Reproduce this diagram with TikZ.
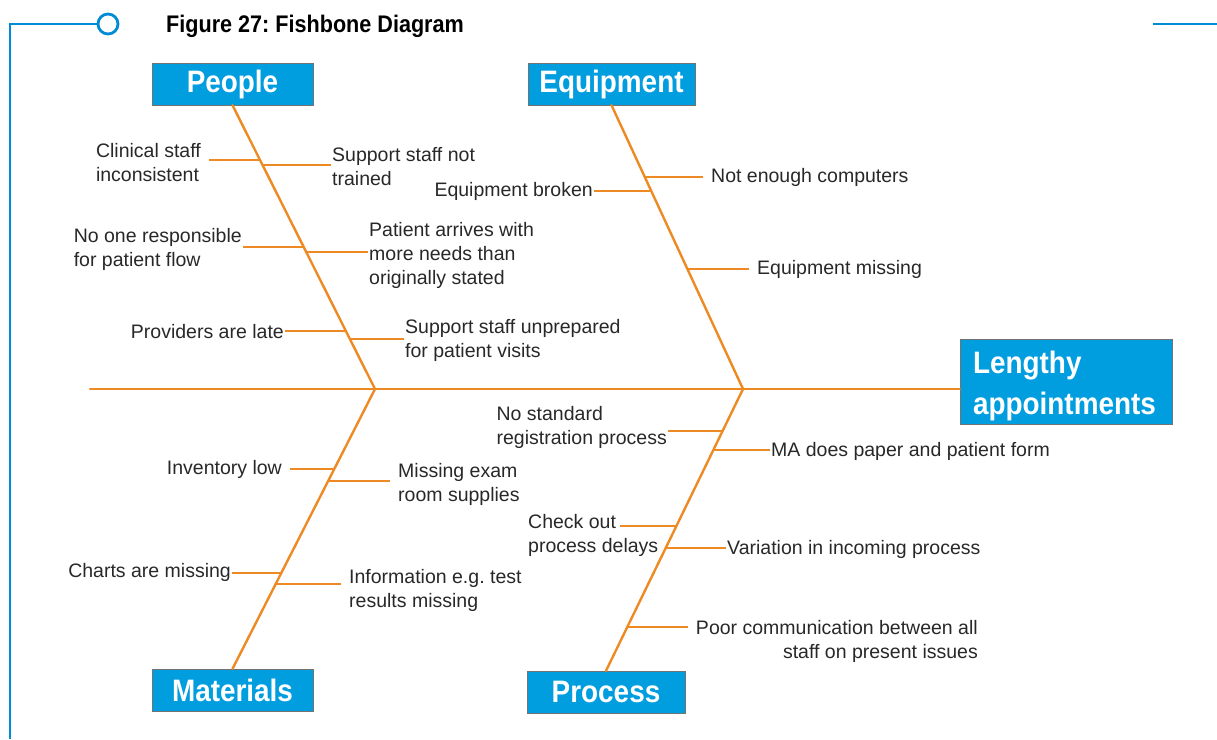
\documentclass[tikz,border=0pt]{standalone}
\usepackage{fontspec}
\setmainfont{Liberation Sans}
\newfontfamily\headfont{Liberation Sans}[FakeStretch=0.9]
\usepackage{tikz}
\usetikzlibrary{calc}
\definecolor{fishblue}{RGB}{0,157,223}
\definecolor{frameblue}{RGB}{0,140,212}
\definecolor{boneorange}{RGB}{238,138,36}
\definecolor{textgray}{RGB}{40,40,40}
\frenchspacing
\tikzset{
    frame/.style={draw=frameblue,line width=2.8pt},
    title/.style={font=\headfont\bfseries\fontsize{24}{26}\selectfont,inner sep=0pt},
    category/.style={
        draw=black!55,thin,
        fill=fishblue,text=white,
        minimum height=42pt,inner sep=0pt,
        font=\headfont\bfseries\fontsize{31}{34}\selectfont
    },
    effect/.style={
        draw=black!55,thin,
        fill=fishblue,text=white,
        text width=186pt,align=left,
        inner xsep=13pt,minimum height=82pt,
        font=\headfont\bfseries\fontsize{31}{41}\selectfont
    },
    cause/.style={
        text=textgray,align=left,
        inner xsep=1pt,inner ysep=1pt,
        font=\fontsize{19.5}{24}\selectfont
    },
    bone/.style={draw=boneorange,line width=2.4pt,line cap=round},
    twig/.style={draw=boneorange,line width=2pt},
    spaced/.style={shorten >=7pt}
}
\begin{document}
\begin{tikzpicture}[x=1pt,y=-1pt]
\useasboundingbox (0,0) rectangle (1217,739);
% page frame
\draw[frame] (10,739) -- (10,24) -- (98,24);
\draw[frame,fill=white] (108,24) circle (10);
\draw[frame] (1153,24) -- (1217,24);
\node[title,anchor=west] (title) at (166,26) {Figure 27: Fishbone Diagram};

% head and categories
\node[effect] (effect) at (1066,382) {\rule{0pt}{31pt}Lengthy\\appointments};
\foreach \name/\x/\y/\w/\txt in {people/232.5/84/161/People,equipment/611.5/84/167/Equipment,materials/232.5/690/161/Materials,process/606/692/158/Process}
    \node[category,minimum width=\w pt] (\name) at (\x,\y) {\txt};

% spine and main bones
\coordinate (tail) at (90,389);
\coordinate (pj) at (375,389);
\coordinate (ej) at (743,389);
\draw[bone] (tail) -- (tail -| effect.west);
\draw[bone] (people.south) -- (pj);
\draw[bone] (pj) -- (materials.north);
\draw[bone] (equipment.south) -- (ej);
\draw[bone] (ej) -- (process.north);

% points on the bones
\foreach \n/\t in {1/0.194,2/0.211,3/0.500,4/0.518,5/0.796,6/0.824}
    \coordinate (p\n) at ($(people.south)!\t!(pj)$);
\foreach \n/\t in {1/0.254,2/0.303,3/0.577}
    \coordinate (e\n) at ($(equipment.south)!\t!(ej)$);
\foreach \n/\t in {1/0.286,2/0.329,3/0.657,4/0.696}
    \coordinate (m\n) at ($(pj)!\t!(materials.north)$);
\foreach \n/\t in {1/0.149,2/0.216,3/0.486,4/0.564,5/0.844}
    \coordinate (r\n) at ($(ej)!\t!(process.north)$);

% people
\node[cause,anchor=east] (clinical) at (202,163) {Clinical staff\\inconsistent};
\node[cause,anchor=west] (trained) at (331,167) {Support staff not\\trained};
\node[cause,anchor=east] (flow) at (243,249) {No one responsible\\for patient flow};
\node[cause,anchor=west] (needs) at (368,255) {Patient arrives with\\more needs than\\originally stated};
\node[cause,anchor=east] (late) at (285,332) {Providers are late};
\node[cause,anchor=west] (unprepared) at (404,340) {Support staff unprepared\\for patient visits};
\draw[twig,spaced] (p1) -- (p1 -| clinical.east);
\draw[twig] (p2) -- (p2 -| trained.west);
\draw[twig] (p3) -- (p3 -| flow.east);
\draw[twig] (p4) -- (p4 -| needs.west);
\draw[twig] (p5) -- (p5 -| late.east);
\draw[twig] (p6) -- (p6 -| unprepared.west);

% equipment
\node[cause,anchor=west] (computers) at (710,177) {Not enough computers};
\node[cause,anchor=east] (broken) at (594,191) {Equipment broken};
\node[cause,anchor=west] (missing) at (756,269) {Equipment missing};
\draw[twig,spaced] (e1) -- (e1 -| computers.west);
\draw[twig] (e2) -- (e2 -| broken.east);
\draw[twig,spaced] (e3) -- (e3 -| missing.west);

% materials
\node[cause,anchor=east] (inventory) at (283,469) {Inventory low};
\node[cause,anchor=west] (supplies) at (397,484) {Missing exam\\room supplies};
\node[cause,anchor=east] (charts) at (232,572) {Charts are missing};
\node[cause,anchor=west] (results) at (348,590) {Information e.g. test\\results missing};
\draw[twig,spaced] (m1) -- (m1 -| inventory.east);
\draw[twig,spaced] (m2) -- (m2 -| supplies.west);
\draw[twig] (m3) -- (m3 -| charts.east);
\draw[twig,spaced] (m4) -- (m4 -| results.west);

% process
\node[cause,anchor=east] (registration) at (668,427) {No standard\\registration process};
\node[cause,anchor=west] (paperform) at (770,451) {MA does paper and patient form};
\node[cause,anchor=west] (checkout) at (527,535) {Check out\\process delays};
\node[cause,anchor=west] (variation) at (726,549) {Variation in incoming process};
\node[cause,anchor=east,align=right] (communication) at (979,641) {Poor communication between all\\staff on present issues};
\draw[twig] (r1) -- (r1 -| registration.east);
\draw[twig] (r2) -- (r2 -| paperform.west);
\draw[twig] (r3) -- ($(checkout.west |- r3)+(93,0)$);
\draw[twig] (r4) -- (r4 -| variation.west);
\draw[twig,spaced] (r5) -- (r5 -| communication.west);
\end{tikzpicture}
\end{document}
